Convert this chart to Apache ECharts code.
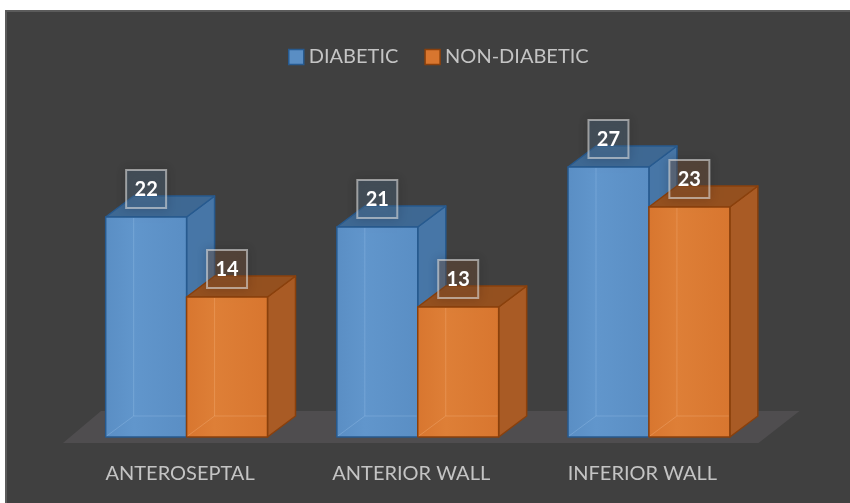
<!DOCTYPE html>
<html>
<head>
<meta charset="utf-8">
<script src="https://cdn.jsdelivr.net/npm/echarts@6/dist/echarts.min.js"></script>
<style>
  html, body { margin: 0; padding: 0; background: #ffffff; }
  #chart { width: 850px; height: 503px; }
</style>
</head>
<body>
<div id="chart"></div>
<script>
// Infarct location counts, diabetic vs non-diabetic patients
const categories = ['ANTEROSEPTAL', 'ANTERIOR WALL', 'INFERIOR WALL'];
const diabetic = [22, 21, 27];
const nonDiabetic = [14, 13, 23];
const seriesNames = ['DIABETIC', 'NON-DIABETIC'];

const TEXT_FONT = 'Lato, "Liberation Sans", sans-serif';
const DEPTH_X = 28;   // horizontal offset of the box's back face
const DEPTH_Y = 21;   // vertical offset of the box's back face

const palettes = [
  { front: '#5a8ec4', frontHi: '#6196cc', side: '#4776a7', top: '#3e6893',
    edge: '#275a8f', ghost: 'rgba(170,205,240,0.28)', box: 'rgba(90,125,160,0.3)' },
  { front: '#d8762f', frontHi: '#de7f37', side: '#a95b25', top: '#94501f',
    edge: '#8a400c', ghost: 'rgba(250,190,140,0.30)', box: 'rgba(140,90,55,0.32)' }
];

// Draws one bar as a translucent 3D box with its value tag above it
function boxRenderer(slot) {
  const pal = palettes[slot];
  return function (params, api) {
    const cat = api.value(0);
    const val = api.value(1);
    const topPt = api.coord([cat, val]);
    const basePt = api.coord([cat, 0]);
    const band = api.size([1, 0])[0];
    const w = band * 0.35;
    const x0 = slot === 0 ? topPt[0] - w : topPt[0];
    const x1 = x0 + w;
    const yT = topPt[1];
    const yB = basePt[1];
    const dx = DEPTH_X, dy = DEPTH_Y;
    const edge = { stroke: pal.edge, lineWidth: 1.5, lineJoin: 'round' };
    const cx = (x0 + x1) / 2;
    const boxW = 40, boxH = 38;
    const boxCy = yT - 28;

    return {
      type: 'group',
      children: [
        { type: 'polygon',
          shape: { points: [[x1, yB], [x1 + dx, yB - dy], [x1 + dx, yT - dy], [x1, yT]] },
          style: Object.assign({ fill: pal.side }, edge) },
        { type: 'polygon',
          shape: { points: [[x0, yT], [x0 + dx, yT - dy], [x1 + dx, yT - dy], [x1, yT]] },
          style: Object.assign({ fill: pal.top }, edge) },
        { type: 'rect',
          shape: { x: x0, y: yT, width: w, height: yB - yT },
          style: Object.assign({
            fill: new echarts.graphic.LinearGradient(0, 0, 1, 0, [
              { offset: 0, color: pal.front },
              { offset: 0.35, color: pal.frontHi },
              { offset: 1, color: pal.front }
            ])
          }, edge) },
        // hidden back edges seen through the translucent front face
        { type: 'polyline',
          shape: { points: [[x0 + 1, yB - 1], [x0 + dx, yB - dy], [x1 - 1, yB - dy]] },
          style: { stroke: pal.ghost, lineWidth: 1, fill: null } },
        { type: 'line',
          shape: { x1: x0 + dx, y1: yB - dy, x2: x0 + dx, y2: yT + 1 },
          style: { stroke: pal.ghost, lineWidth: 1 } },
        { type: 'rect',
          shape: { x: cx - boxW / 2, y: boxCy - boxH / 2, width: boxW, height: boxH },
          style: { fill: pal.box, stroke: 'rgba(220,220,220,0.6)', lineWidth: 2,
                   shadowBlur: 10, shadowColor: 'rgba(0,0,0,0.35)' } },
        { type: 'text',
          style: { text: String(val), x: cx, y: boxCy + 1, align: 'center', verticalAlign: 'middle',
                   fill: '#ffffff', font: 'bold 20px Lato, "Liberation Sans", sans-serif' } }
      ]
    };
  };
}

// Grey floor plane under the boxes, sized from the grid
function floorRenderer(params, api) {
  const cs = params.coordSys;
  const yB = cs.y + cs.height;
  const left = cs.x, right = cs.x + cs.width;
  return {
    type: 'polygon',
    shape: { points: [
      [left - 8, yB + 6],
      [left + 30, yB - 26],
      [right + 35, yB - 26],
      [right - 6, yB + 6]
    ] },
    style: { fill: '#4f4d4f' }
  };
}

const chart = echarts.init(document.getElementById('chart'), null, { renderer: 'canvas' });

chart.setOption({
  backgroundColor: '#ffffff',
  animation: false,
  graphic: [{
    type: 'rect',
    z: -10,
    silent: true,
    shape: { x: 6, y: 11, width: 860, height: 510 },
    style: { fill: '#404040', stroke: '#5b5b5b', lineWidth: 2 }
  }],
  legend: {
    left: 283,
    top: 42,
    itemWidth: 15,
    itemHeight: 15,
    itemGap: 26,
    icon: 'rect',
    textStyle: { color: '#c4c4c4', fontSize: 20, fontFamily: TEXT_FONT },
    data: [
      { name: seriesNames[0], itemStyle: { color: palettes[0].front, borderColor: palettes[0].edge, borderWidth: 1.5 } },
      { name: seriesNames[1], itemStyle: { color: palettes[1].front, borderColor: palettes[1].edge, borderWidth: 1.5 } }
    ]
  },
  grid: { left: 71, right: 85.5, top: 137, bottom: 66, containLabel: false },
  xAxis: {
    type: 'category',
    data: categories,
    axisLine: { show: false },
    axisTick: { show: false },
    axisLabel: {
      color: '#c4c4c4',
      fontSize: 20,
      fontFamily: TEXT_FONT,
      margin: 27,
      padding: [0, 13, 0, 0]
    }
  },
  yAxis: {
    type: 'value',
    min: 0,
    max: 30,
    show: false,
    splitLine: { show: false }
  },
  series: [
    { type: 'custom', name: 'floor', silent: true, z: 1,
      renderItem: floorRenderer, data: [[0, 0]], encode: { x: 0, y: 1 } },
    { type: 'custom', name: seriesNames[0], z: 2,
      itemStyle: { color: palettes[0].front },
      renderItem: boxRenderer(0),
      data: diabetic.map((v, i) => [i, v]), encode: { x: 0, y: 1 } },
    { type: 'custom', name: seriesNames[1], z: 3,
      itemStyle: { color: palettes[1].front },
      renderItem: boxRenderer(1),
      data: nonDiabetic.map((v, i) => [i, v]), encode: { x: 0, y: 1 } }
  ]
});
</script>
</body>
</html>
